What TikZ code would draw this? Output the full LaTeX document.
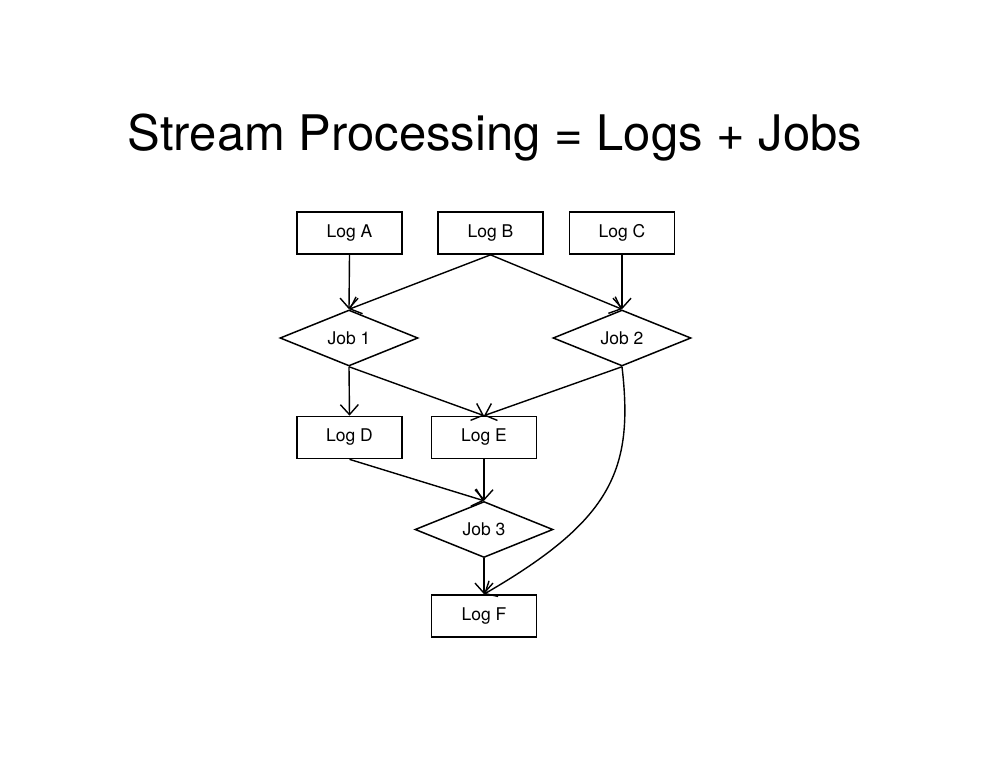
\documentclass[tikz,border=0pt]{standalone}
\usepackage{fontspec}
\setmainfont{TeX Gyre Heros}
\usetikzlibrary{shapes.geometric,arrows.meta}
\tikzset{
  logbox/.style={draw, line width=1.7pt, minimum width=105pt, minimum height=42pt, inner sep=0pt, font=\fontsize{17.5}{20}\selectfont},
  jobdiam/.style={draw, diamond, line width=1.5pt, aspect=2.46, minimum width=138pt, minimum height=56pt, inner sep=0pt, font=\fontsize{17.5}{20}\selectfont},
  flow/.style={line width=1.4pt, -{Straight Barb[length=10pt, width=18pt, line width=1.4pt]}}
}
\begin{document}
\begin{tikzpicture}[x=1pt, y=-1pt]
	  \useasboundingbox (0,0) rectangle (990,765);
	  \node[anchor=base] (title) at (495,150) {\fontsize{49}{58}\selectfont Stream Processing = Logs + Jobs};
	  % logs
	  \node[logbox] (loga) at (349.5,233) {Log A};
	  \node[logbox] (logb) at (490.5,233) {Log B};
	  \node[logbox] (logc) at (622,233) {Log C};
	  \node[logbox] (logd) at (349.5,437.5) {Log D};
	  \node[logbox] (loge) at (484,437.5) {Log E};
	  \node[logbox] (logf) at (484,616) {Log F};
	  % jobs
	  \node[jobdiam] (job1) at (349,338) {Job 1};
	  \node[jobdiam] (job2) at (622,338) {Job 2};
	  \node[jobdiam] (job3) at (484,529.5) {Job 3};
	  % edges
	  \draw[flow] (loga.south) -- (job1.north);
	  \draw[flow] (logb.south) -- (job1.north);
	  \draw[flow] (logb.south) -- (job2.north);
	  \draw[flow] (logc.south) -- (job2.north);
	  \draw[flow] (job1.south) -- (logd.north);
	  \draw[flow] (job1.south) -- (loge.north);
	  \draw[flow] (job2.south) -- (loge.north);
	  \draw[flow] (job2.south) .. controls (634,470) and (612,520) .. (logf.north);
	  \draw[flow] (logd.south) -- (job3.north);
	  \draw[flow] (loge.south) -- (job3.north);
	  \draw[flow] (job3.south) -- (logf.north);
	\end{tikzpicture}
\end{document}
